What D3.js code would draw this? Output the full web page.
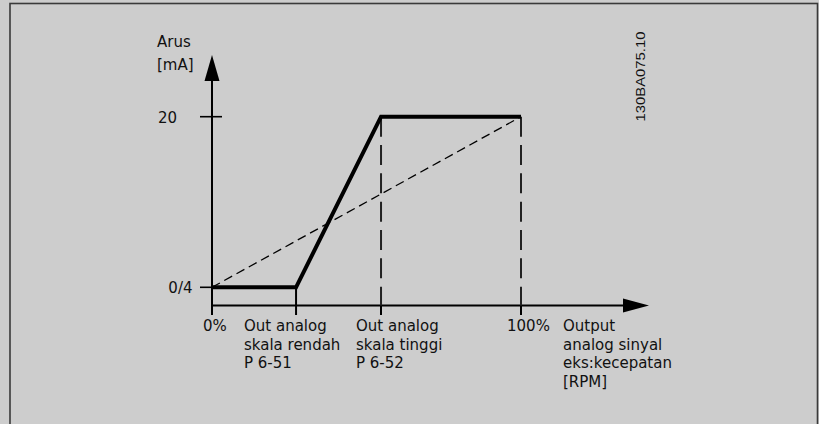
<!DOCTYPE html>
<html>
<head>
<meta charset="utf-8">
<script src="https://cdn.jsdelivr.net/npm/d3@7"></script>
<style>
html,body{margin:0;padding:0;background:#cdcdcd;}
svg{display:block;}
text{font-family:"DejaVu Sans",Verdana,sans-serif;font-size:15px;fill:#111;}
</style>
</head>
<body>
<svg id="chart" width="819" height="424"></svg>
<script>
// ---- data ----
const xTickValues = [0, 27.2, 54.7, 100];
const xTickLabels = [
  ["0%"],
  ["Out analog", "skala rendah", "P 6-51"],
  ["Out analog", "skala tinggi", "P 6-52"],
  ["100%"]
];
const xAxisTitle = ["Output", "analog sinyal", "eks:kecepatan", "[RPM]"];
const yTickValues = [4, 20];
const yTickLabels = ["0/4", "20"];
const yAxisTitle = ["Arus", "[mA]"];
const solidX = [0, 27.2, 54.7, 100];
const solidY = [4, 4, 20, 20];
const dashedX = [0, 100];
const dashedY = [4, 20];
const docId = "130BA075.10";

// ---- layout ----
const svg = d3.select("#chart");
const x = d3.scaleLinear().domain([0, 100]).range([212, 521]);
const y = d3.scaleLinear().domain([4, 20]).range([287.3, 116.7]);
const x0 = x(0), yAxisY = 305.5;

// frame
svg.append("rect").attr("x", 10).attr("y", 3.5).attr("width", 807.5).attr("height", 440)
  .attr("fill", "#cdcdcd").attr("stroke", "#3a3a3a").attr("stroke-width", 1.6);

// y axis line + arrow
svg.append("line").attr("x1", x0).attr("x2", x0).attr("y1", 315).attr("y2", 70)
  .attr("stroke", "#000").attr("stroke-width", 2);
svg.append("path").attr("d", `M${x0},55 L${x0-7.5},81 L${x0+7.5},81 Z`).attr("fill", "#000");

// x axis line + arrow
svg.append("line").attr("x1", x0).attr("x2", 630).attr("y1", yAxisY).attr("y2", yAxisY)
  .attr("stroke", "#000").attr("stroke-width", 2);
svg.append("path").attr("d", `M649,${yAxisY} L623,${yAxisY-7} L623,${yAxisY+7} Z`).attr("fill", "#000");

// y ticks
const yTickExtent = [[200, 212], [200, 222]];
yTickValues.forEach((v, i) => {
  svg.append("line").attr("x1", yTickExtent[i][0]).attr("x2", yTickExtent[i][1])
    .attr("y1", y(v)).attr("y2", y(v)).attr("stroke", "#000").attr("stroke-width", 1.6);
});
const yLabelEnd = [192.5, 177];
yTickLabels.forEach((t, i) => {
  svg.append("text").attr("x", yLabelEnd[i]).attr("y", y(yTickValues[i]) + 6)
    .attr("text-anchor", "end").text(t);
});

// x ticks (below axis)
xTickValues.forEach((v) => {
  svg.append("line").attr("x1", x(v)).attr("x2", x(v)).attr("y1", yAxisY).attr("y2", 315)
    .attr("stroke", "#000").attr("stroke-width", 2);
});
// low-scale vertical solid connecting
svg.append("line").attr("x1", x(solidX[1])).attr("x2", x(solidX[1]))
  .attr("y1", y(solidY[1])).attr("y2", yAxisY).attr("stroke", "#000").attr("stroke-width", 2);

// dashed verticals at high and 100%
[solidX[2], solidX[3]].forEach((v) => {
  svg.append("line").attr("x1", x(v)).attr("x2", x(v)).attr("y1", y(20)).attr("y2", yAxisY)
    .attr("stroke", "#222").attr("stroke-width", 2).attr("stroke-dasharray", "20,8.33");
});

// dashed diagonal
const line = d3.line().x(d => x(d[0])).y(d => y(d[1]));
svg.append("path").datum(dashedX.map((v, i) => [v, dashedY[i]])).attr("d", line)
  .attr("fill", "none").attr("stroke", "#000").attr("stroke-width", 1.3)
  .attr("stroke-dasharray", "9,5");

// solid thick curve
svg.append("path").datum(solidX.map((v, i) => [v, solidY[i]])).attr("d", line)
  .attr("fill", "none").attr("stroke", "#000").attr("stroke-width", 4)
  .attr("stroke-linejoin", "miter");

// x tick labels
const xLabelStart = [203, 244, 356, 507];
const baseY = 331, lh = 18.7;
xTickLabels.forEach((lines, i) => {
  const t = svg.append("text").attr("x", xLabelStart[i]).attr("y", baseY);
  lines.forEach((s, j) => t.append("tspan").attr("x", xLabelStart[i]).attr("y", baseY + j * lh).text(s));
});
// x title
const xt = svg.append("text");
xAxisTitle.forEach((s, j) => xt.append("tspan").attr("x", 563).attr("y", baseY + j * lh).text(s));

// y title
svg.append("text").attr("x", 157).attr("y", 47).text(yAxisTitle[0]);
svg.append("text").attr("x", 157).attr("y", 70).text(yAxisTitle[1]);

// doc id (rotated)
svg.append("text").attr("transform", "translate(644.5,121.5) rotate(-90)")
  .attr("textLength", 90).attr("lengthAdjust", "spacingAndGlyphs")
  .style("font-family", "'Liberation Sans',Arial,sans-serif").style("font-size", "13px")
  .text(docId);
</script>
</body>
</html>
